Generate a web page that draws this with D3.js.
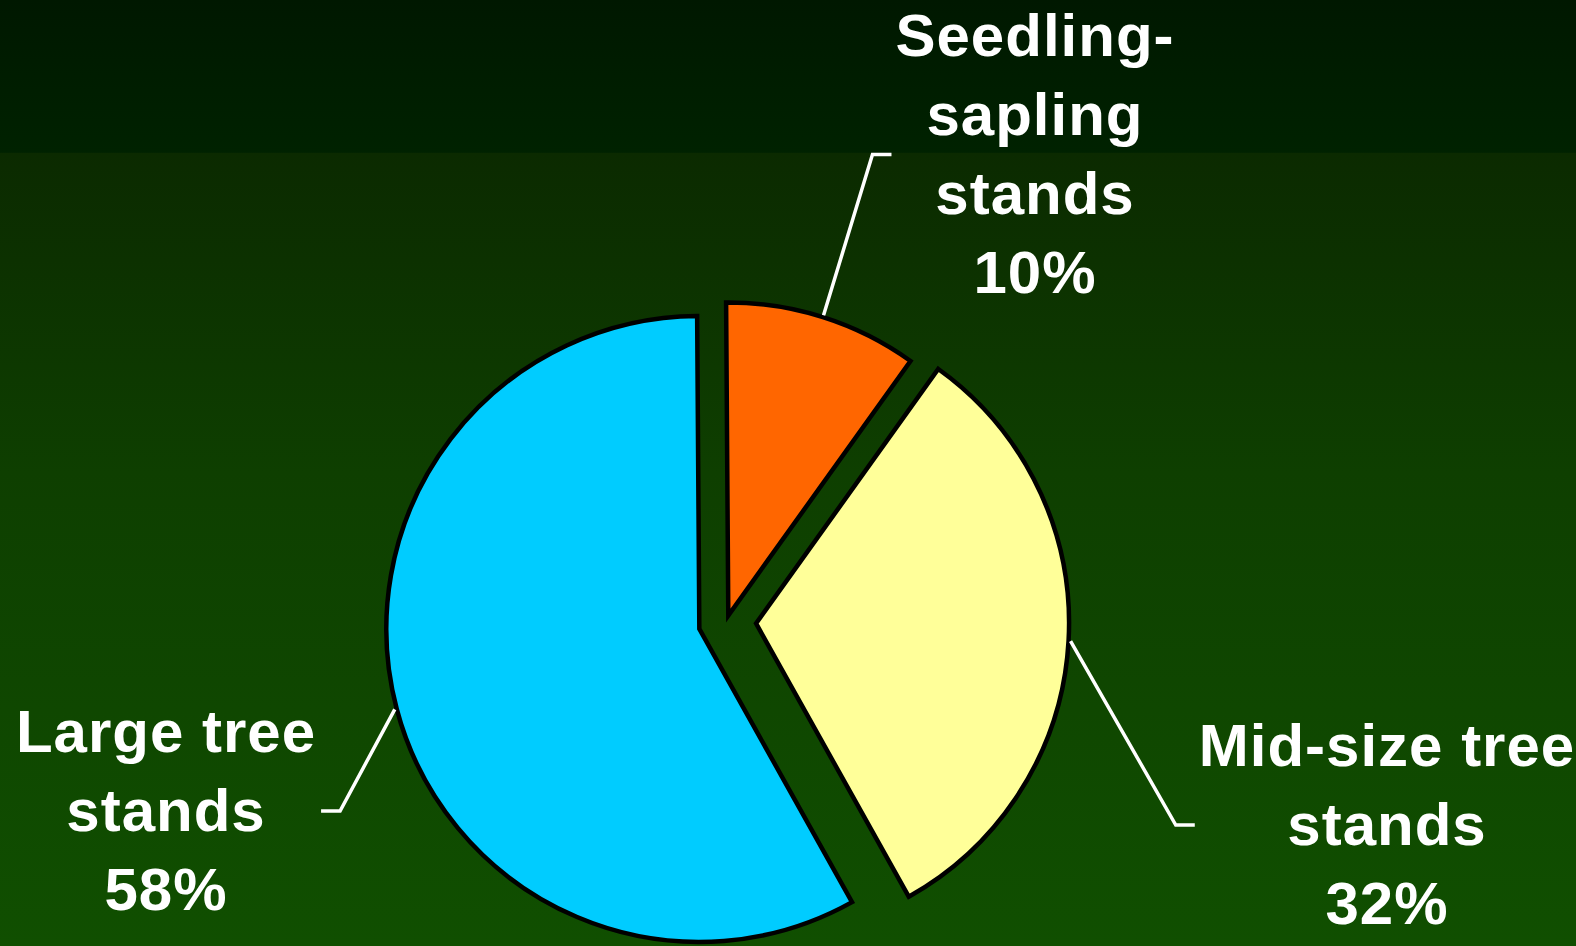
<!DOCTYPE html>
<html>
<head>
<meta charset="utf-8">
<script src="https://cdn.jsdelivr.net/npm/d3@7"></script>
<style>
  html, body { margin: 0; padding: 0; background: #0d3a00; }
  svg { display: block; }
</style>
</head>
<body>
<div id="chart"></div>
<script>
const WIDTH = 1576;
const HEIGHT = 946;

// data
const categories = ["Seedling-sapling stands", "Mid-size tree stands", "Large tree stands"];
const labelLines = [["Seedling-", "sapling", "stands"], ["Mid-size tree", "stands"], ["Large tree", "stands"]];
const values = [10, 32, 58];
const colors = ["#FF6600", "#FFFF99", "#00CCFF"];

// layout
const CENTER = { x: 726.3, y: 621.8 };
const RADIUS = 313;
const ROTATION = -0.4 * Math.PI / 180;
const EXPLODE = [6.6, 29.8, 27.9];
const LABEL_POS = [
  { x: 1035, y: 56, side: "right" },
  { x: 1387, y: 766, side: "right" },
  { x: 166, y: 752, side: "left" },
];
const LINE_HEIGHT = 79;
const FONT = "'Liberation Sans', Arial, Helvetica, sans-serif";

const svg = d3.select("#chart")
  .append("svg")
  .attr("width", WIDTH)
  .attr("height", HEIGHT)
  .attr("viewBox", `0 0 ${WIDTH} ${HEIGHT}`);

// banded green background
const grad = svg.append("defs")
  .append("linearGradient")
  .attr("id", "bg")
  .attr("x1", 0).attr("y1", 0).attr("x2", 0).attr("y2", 1);
[
  [0, "#001800"],
  [0.161, "#002200"],
  [0.162, "#0b2a00"],
  [0.5, "#0e3f00"],
  [1, "#104f00"],
].forEach(([o, c]) => grad.append("stop").attr("offset", o).attr("stop-color", c));

svg.append("rect")
  .attr("width", WIDTH)
  .attr("height", HEIGHT)
  .attr("fill", "url(#bg)");

const data = categories.map((name, i) => ({
  name,
  value: values[i],
  color: colors[i],
  lines: labelLines[i],
  explode: EXPLODE[i],
  label: LABEL_POS[i],
}));

const pie = d3.pie()
  .sort(null)
  .value((d) => d.value)
  .startAngle(ROTATION)
  .endAngle(ROTATION + 2 * Math.PI);

const arcs = pie(data).map((a) => {
  const mid = (a.startAngle + a.endAngle) / 2;
  return {
    ...a,
    mid,
    cx: CENTER.x + a.data.explode * Math.sin(mid),
    cy: CENTER.y - a.data.explode * Math.cos(mid),
  };
});

const arc = d3.arc().innerRadius(0).outerRadius(RADIUS);

svg.append("g")
  .selectAll("path")
  .data(arcs)
  .join("path")
  .attr("transform", (d) => `translate(${d.cx},${d.cy})`)
  .attr("d", arc)
  .attr("fill", (d) => d.data.color)
  .attr("stroke", "#000")
  .attr("stroke-width", 4.5)
  .attr("stroke-linejoin", "miter");

// labels
const labels = svg.append("g")
  .selectAll("text")
  .data(arcs)
  .join("text")
  .attr("x", (d) => d.data.label.x)
  .attr("y", (d) => d.data.label.y)
  .attr("text-anchor", "middle")
  .attr("font-family", FONT)
  .attr("font-weight", "bold")
  .attr("font-size", 60)
  .attr("letter-spacing", 1)
  .attr("fill", "#fff");

labels.each(function (d) {
  const t = d3.select(this);
  const lines = [...d.data.lines, `${d.data.value}%`];
  lines.forEach((line, i) => {
    t.append("tspan")
      .attr("x", d.data.label.x)
      .attr("dy", i === 0 ? 0 : LINE_HEIGHT)
      .text(line);
  });
});

// leader lines
const leaders = svg.append("g")
  .attr("fill", "none")
  .attr("stroke", "#fff")
  .attr("stroke-width", 3.5);

labels.each(function (d) {
  const box = this.getBBox();
  const n = d.data.lines.length + 1;
  const midY = d.data.label.y + (n - 1) * LINE_HEIGHT / 2 - 20;
  const right = d.data.label.side === "right";
  const endX = right ? box.x - 4 : box.x + box.width + 5;
  const elbowX = right ? endX - 19 : endX + 19;
  const startX = d.cx + (RADIUS + 2) * Math.sin(d.mid);
  const startY = d.cy - (RADIUS + 2) * Math.cos(d.mid);
  leaders.append("path")
    .attr("d", d3.line()([[startX, startY], [elbowX, midY], [endX, midY]]));
});
</script>
</body>
</html>
